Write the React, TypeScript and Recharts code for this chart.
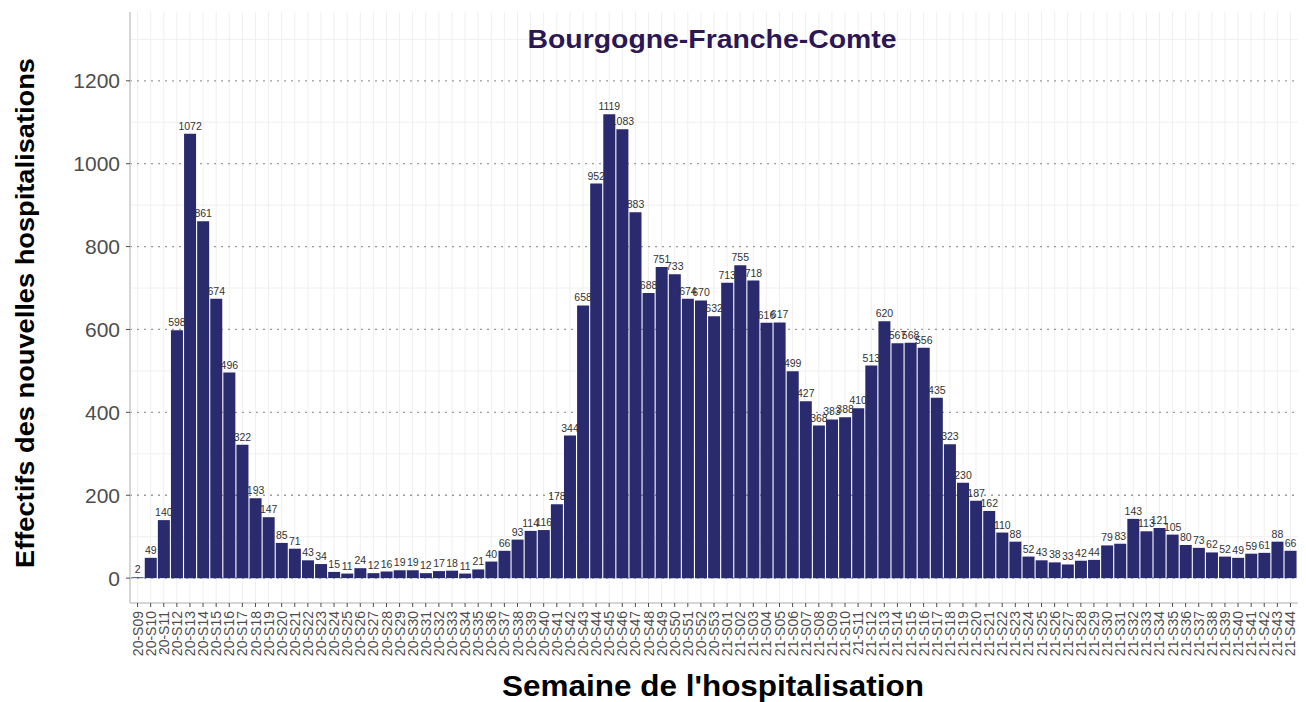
import { BarChart, Bar, XAxis, YAxis, CartesianGrid, LabelList } from "recharts"

const weeks = [
  "20-S09", "20-S10", "20-S11", "20-S12", "20-S13", "20-S14", "20-S15", "20-S16", "20-S17", "20-S18",
  "20-S19", "20-S20", "20-S21", "20-S22", "20-S23", "20-S24", "20-S25", "20-S26", "20-S27", "20-S28",
  "20-S29", "20-S30", "20-S31", "20-S32", "20-S33", "20-S34", "20-S35", "20-S36", "20-S37", "20-S38",
  "20-S39", "20-S40", "20-S41", "20-S42", "20-S43", "20-S44", "20-S45", "20-S46", "20-S47", "20-S48",
  "20-S49", "20-S50", "20-S51", "20-S52", "20-S53",
  "21-S01", "21-S02", "21-S03", "21-S04", "21-S05", "21-S06", "21-S07", "21-S08", "21-S09", "21-S10",
  "21-S11", "21-S12", "21-S13", "21-S14", "21-S15", "21-S16", "21-S17", "21-S18", "21-S19", "21-S20",
  "21-S21", "21-S22", "21-S23", "21-S24", "21-S25", "21-S26", "21-S27", "21-S28", "21-S29", "21-S30",
  "21-S31", "21-S32", "21-S33", "21-S34", "21-S35", "21-S36", "21-S37", "21-S38", "21-S39", "21-S40",
  "21-S41", "21-S42", "21-S43", "21-S44",
]

const hospitalisations = [
  2, 49, 140, 598, 1072, 861, 674, 496, 322, 193,
  147, 85, 71, 43, 34, 15, 11, 24, 12, 16,
  19, 19, 12, 17, 18, 11, 21, 40, 66, 93,
  114, 116, 178, 344, 658, 952, 1119, 1083, 883, 688,
  751, 733, 674, 670, 632,
  713, 755, 718, 616, 617, 499, 427, 368, 383, 388,
  410, 513, 620, 567, 568, 556, 435, 323, 230, 187,
  162, 110, 88, 52, 43, 38, 33, 42, 44, 79,
  83, 143, 113, 121, 105, 80, 73, 62, 52, 49,
  59, 61, 88, 66,
]

const yTicks = [0, 200, 400, 600, 800, 1000, 1200]
const yMinor = [100, 300, 500, 700, 900, 1100, 1300]

const data = weeks.map((week, i) => ({ week, value: hospitalisations[i] }))

const font = "'Liberation Sans', Arial, sans-serif"

function WeekTick({ x, y, payload }: any) {
  return (
    <text
      transform={`translate(${x},${y}) rotate(-90)`}
      textAnchor="end"
      dy="0.36em"
      fontSize={14}
      fill="#4d4d4d"
      fontFamily={font}
    >
      {payload.value}
    </text>
  )
}

export default function App() {
  return (
    <div style={{ position: "absolute", left: 0, top: 0, width: 1306, height: 702, background: "#fff" }}>
      <BarChart
        width={1306}
        height={702}
        data={data}
        margin={{ top: 12, right: 8, left: 0, bottom: 0 }}
        barCategoryGap="5%"
      >
        {/* faint minor grid behind the bars */}
        <CartesianGrid vertical horizontal={false} stroke="#efefef" syncWithTicks />
        <CartesianGrid vertical={false} horizontalValues={yMinor} stroke="#f0f0f0" syncWithTicks />
        <CartesianGrid
          vertical={false}
          stroke="#9a9a9a"
          strokeWidth={1.3}
          strokeDasharray="2 5"
          syncWithTicks
        />
        <XAxis
          dataKey="week"
          interval={0}
          height={99}
          tick={<WeekTick />}
          tickSize={4}
          tickMargin={4}
          tickLine={{ stroke: "#4d4d4d" }}
          axisLine={{ stroke: "#c8c8c8", strokeWidth: 1.5 }}
          padding={{ left: 1, right: 1 }}
        />
        <YAxis
          width={130}
          type="number"
          domain={[-60, 1366]}
          allowDataOverflow
          ticks={yTicks}
          tickSize={4}
          tickMargin={6}
          tickLine={{ stroke: "#4d4d4d" }}
          axisLine={{ stroke: "#c8c8c8", strokeWidth: 1.5 }}
          tick={{ fontSize: 21, fill: "#4d4d4d", fontFamily: font }}
        />
        <Bar dataKey="value" fill="#2a2a6e" isAnimationActive={false}>
          <LabelList dataKey="value" position="top" offset={4} fontSize={10.5} fill="#333" fontFamily={font} />
        </Bar>
      </BarChart>
      <svg
        width={1306}
        height={702}
        style={{ position: "absolute", left: 0, top: 0, pointerEvents: "none" }}
      >
        <text
          x={712}
          y={48}
          textAnchor="middle"
          fontSize={25}
          fontWeight="bold"
          fill="#2c1654"
          fontFamily={font}
          textLength={369}
          lengthAdjust="spacingAndGlyphs"
        >
          Bourgogne-Franche-Comte
        </text>
        <text
          x={713}
          y={696}
          textAnchor="middle"
          fontSize={29}
          fontWeight="bold"
          fill="#000"
          fontFamily={font}
          textLength={422}
          lengthAdjust="spacingAndGlyphs"
        >
          Semaine de l'hospitalisation
        </text>
        <text
          transform="translate(34,313) rotate(-90)"
          textAnchor="middle"
          fontSize={25}
          fontWeight="bold"
          fill="#000"
          fontFamily={font}
          textLength={510}
          lengthAdjust="spacingAndGlyphs"
        >
          Effectifs des nouvelles hospitalisations
        </text>
      </svg>
    </div>
  )
}
